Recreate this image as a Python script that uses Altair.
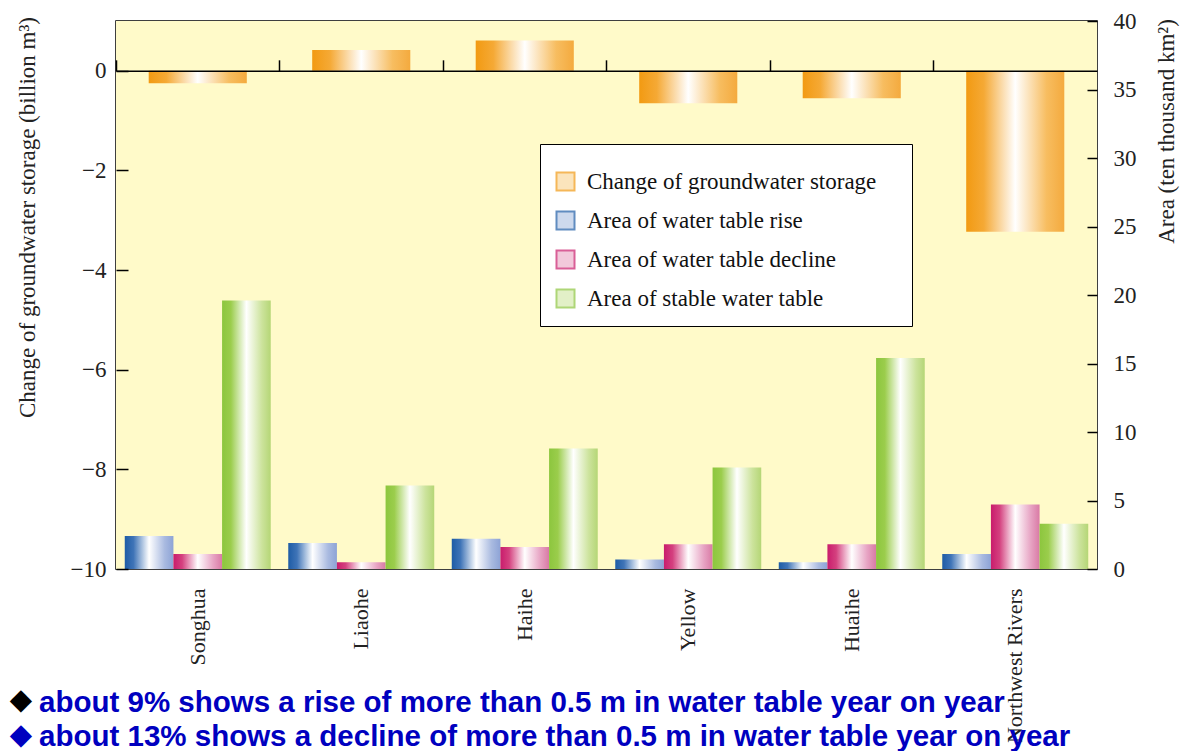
import altair as alt
import pandas as pd

# ---------------- data ----------------
rivers = ["Songhua", "Liaohe", "Haihe", "Yellow", "Huaihe", "Northwest Rivers"]
storage_change = [-0.25, 0.42, 0.61, -0.65, -0.55, -3.23]   # billion m3 (left axis)
area_rise = [2.4, 1.9, 2.2, 0.7, 0.5, 1.1]                  # ten thousand km2 (right axis)
area_decline = [1.1, 0.5, 1.6, 1.8, 1.8, 4.7]
area_stable = [19.6, 6.1, 8.8, 7.4, 15.4, 3.3]

series_names = [
    "Change of groundwater storage",
    "Area of water table rise",
    "Area of water table decline",
    "Area of stable water table",
]
left_ticks = [-10, -8, -6, -4, -2, 0]
right_ticks = [0, 5, 10, 15, 20, 25, 30, 35, 40]

notes = [
    "about 9% shows a rise of more than 0.5 m in water table year on year",
    "about 13% shows a decline of more than 0.5 m in water table year on year",
]
bullets = ["\u25c6", "\u25c6"]
bullet_colors = ["#000000", "#0000BF"]

# ---------------- styling ----------------
SERIF = "Liberation Serif"
W, H = 981, 548
BG = "#FFFAC9"


def grad(c0, c1, c2, c3):
    return alt.Gradient(
        gradient="linear", x1=0, x2=1, y1=0, y2=0,
        stops=[
            alt.GradientStop(offset=0, color=c0),
            alt.GradientStop(offset=0.18, color=c1),
            alt.GradientStop(offset=0.5, color="#FFFFFF"),
            alt.GradientStop(offset=0.82, color=c2),
            alt.GradientStop(offset=1, color=c3),
        ],
    )


grad_orange = grad("#F29A12", "#F5A935", "#F7BD60", "#F4AA3E")
grad_blue = grad("#1E5CA6", "#3F74B7", "#A9BAE0", "#8DA3D6")
grad_pink = grad("#C91C6C", "#D4417F", "#E7A3C3", "#D97AA5")
grad_green = grad("#8CC63E", "#9BCD4C", "#CCE39C", "#B5D676")
area_grads = [grad_blue, grad_pink, grad_green]

legend_fills = ["#FAD9A0", "#B8C9E6", "#EDB3CD", "#D7EBB0"]
legend_strokes = ["#F29A12", "#1E5CA6", "#C91C6C", "#8CC63E"]

# ---------------- tables ----------------
storage_df = pd.DataFrame({"river": rivers, "value": storage_change})
area_df = pd.DataFrame({
    "river": rivers * 3,
    "series": [series_names[1]] * 6 + [series_names[2]] * 6 + [series_names[3]] * 6,
    "value": area_rise + area_decline + area_stable,
})
legend_df = pd.DataFrame({"series": series_names})

x_scale = alt.Scale(domain=rivers, paddingInner=0, paddingOuter=0)

top_axis = alt.Axis(
    orient="top", offset=-H / 11.0, labels=False, domain=True,
    domainColor="black", domainWidth=1.5, ticks=True, tickSize=11,
    tickWidth=1.5, tickColor="black", bandPosition=0, title=None,
    grid=False, zindex=1,
)
bottom_axis = alt.Axis(
    orient="bottom", labelAngle=270, labelAlign="right", labelBaseline="middle",
    ticks=False, domain=False, grid=False, labelPadding=19, labelFont=SERIF,
    labelFontSize=22, labelColor="#222222", labelLimit=400, title=None,
)
left_axis = alt.Axis(
    orient="left", values=left_ticks, offset=-12, tickSize=12, tickWidth=1.5,
    tickColor="black", domain=False, grid=False, labelPadding=10,
    labelFont=SERIF, labelFontSize=23, labelColor="#222222",
    title="Change of groundwater storage (billion m\u00b3)", titleFont=SERIF,
    titleFontSize=23, titleFontWeight="normal", titleColor="#222222",
    titleAngle=270, titleAlign="center", titleBaseline="middle",
    titleX=-101, titleY=196, zindex=1,
)
right_axis = alt.Axis(
    orient="right", values=right_ticks, offset=-10, tickSize=10, tickWidth=1.5,
    tickColor="black", domain=False, grid=False, labelPadding=16,
    labelFont=SERIF, labelFontSize=23, labelColor="#222222",
    title="Area (ten thousand km\u00b2)", titleFont=SERIF, titleFontSize=23,
    titleFontWeight="normal", titleColor="#222222", titleAngle=270,
    titleAlign="center", titleBaseline="middle", titleX=79, titleY=110,
    zindex=1,
)

# plot-area background (light yellow panel)
panel = alt.Chart(pd.DataFrame({"p": [0]})).mark_rect(color=BG).encode(
    x=alt.value(0), x2=alt.value(W), y=alt.value(0), y2=alt.value(H)
)

orange = alt.Chart(storage_df).mark_bar(
    color=grad_orange, width=alt.RelativeBandSize(0.6)
).encode(
    x=alt.X("river:N", sort=rivers, scale=x_scale, axis=top_axis),
    y=alt.Y("value:Q", scale=alt.Scale(domain=[-10, 1], nice=False), axis=left_axis),
)

area_layers = []
for name, g in zip(series_names[1:], area_grads):
    area_layers.append(
        alt.Chart(area_df).transform_filter(alt.datum.series == name).mark_bar(color=g).encode(
            x=alt.X("river:N", sort=rivers, scale=x_scale, axis=bottom_axis),
            xOffset=alt.XOffset(
                "series:N",
                scale=alt.Scale(domain=series_names[1:], paddingInner=0, paddingOuter=0.18),
            ),
            y=alt.Y("value:Q", scale=alt.Scale(domain=[0, 40], nice=False), axis=right_axis),
        )
    )
area = alt.layer(*area_layers)

# invisible (white-on-white) spacer title widens the legend box to the original's width
legend_def = alt.Legend(
    title="x" * 86, titleFontSize=8, titlePadding=4, titleLimit=1000,
    titleFont=SERIF, titleColor="white",
    orient="none", legendX=424, legendY=123, fillColor="white",
    strokeColor="black", padding=14, symbolType="square", symbolSize=324,
    symbolStrokeWidth=2, labelFont=SERIF, labelFontSize=23, labelColor="#111111",
    labelOffset=10, rowPadding=12, labelLimit=0,
)
legend_layer = alt.Chart(legend_df).transform_filter("false").mark_square(
    size=324, filled=True, strokeWidth=2
).encode(
    fill=alt.Fill("series:N", scale=alt.Scale(domain=series_names, range=legend_fills), legend=legend_def),
    stroke=alt.Stroke("series:N", scale=alt.Scale(domain=series_names, range=legend_strokes), legend=legend_def),
)

note_layers = []
for i, (line, b, bc) in enumerate(zip(notes, bullets, bullet_colors)):
    note_layers.append(
        alt.Chart(pd.DataFrame({"t": [b]})).mark_text(
            align="center", baseline="middle", font="DejaVu Sans", fontSize=29, color=bc
        ).encode(text="t:N", x=alt.value(-95), y=alt.value(679 + 35 * i))
    )
    note_layers.append(
        alt.Chart(pd.DataFrame({"t": [line]})).mark_text(
            align="left", baseline="alphabetic", font="Liberation Sans", fontSize=29.5,
            fontWeight="bold", color="#0000BF"
        ).encode(text="t:N", x=alt.value(-77), y=alt.value(691 + 34 * i))
    )

chart = (
    alt.layer(panel, orange, area, legend_layer, *note_layers)
    .resolve_scale(y="independent")
    .resolve_axis(x="independent", y="independent")
    .properties(
        width=W, height=H,
        padding={"left": 108, "top": 13, "right": 83, "bottom": 182},
        autosize=alt.AutoSizeParams(type="none"),
        background="white",
    )
    .configure_view(stroke="black", strokeWidth=1.5)
)

chart.save("out.html", embed_options={"renderer": "svg", "actions": False})
